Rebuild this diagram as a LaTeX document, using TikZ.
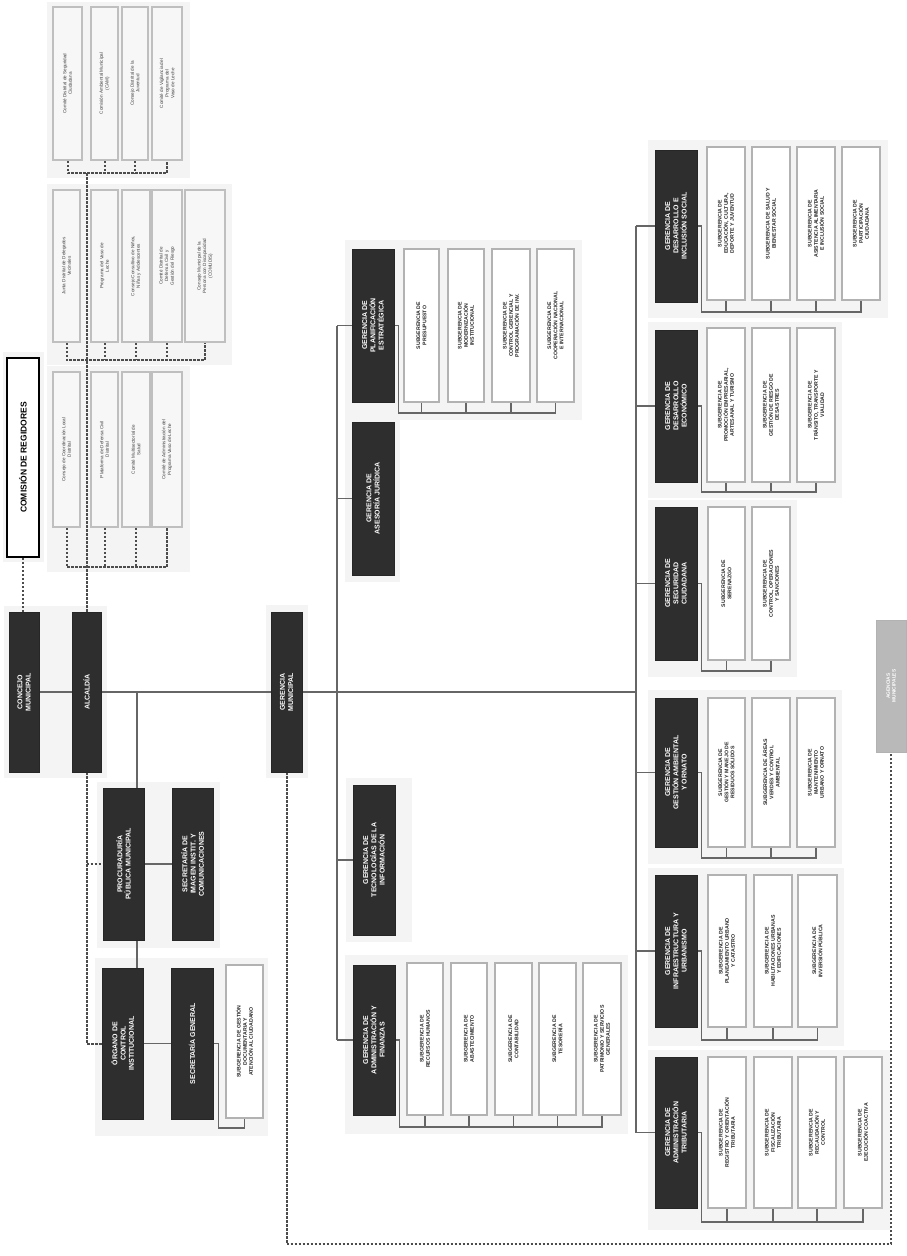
\documentclass[tikz,border=0pt]{standalone}
\usepackage{fontspec}
\setmainfont{Liberation Sans}
\usetikzlibrary{calc}
\pgfdeclarelayer{paper}
\pgfdeclarelayer{halo}
\pgfdeclarelayer{bg}
\pgfsetlayers{paper,halo,bg,main}
\newcommand{\bx}[7]{\node[#1, minimum width={(#6)-(#4)}, minimum height={(#5)-(#3)}] (#2) at ({((#3)+(#5))/2},{((#4)+(#6))/2}) {#7};}
\newcommand{\brk}[4]{%
  \draw[ln] (#1.south) -- ++(4,0) |- (#3.west |- 0,#2) -- (#3.west);
  \foreach \s in {#4} {\draw[ln] (\s.west) -- (\s.west |- 0,#2);}}
\newcommand{\hl}[4]{\fill[gray!9] (#1,#2) rectangle (#3,#4);}
\begin{document}
\begin{tikzpicture}[x=1pt,y=-1pt,
  dbox/.style={draw=black!85, fill=black!82, text=white, align=center, inner sep=1pt, rotate=90,
    font=\bfseries\fontsize{7}{8.2}\selectfont},
  sbox/.style={draw=gray!60, line width=1.5pt, fill=white, text=black!85, align=center, inner sep=1pt, rotate=90,
    font=\bfseries\fontsize{5.2}{6.2}\selectfont},
  cbox/.style={draw=gray!50, line width=1.6pt, fill=gray!6, text=black!75, align=center, inner sep=1pt, rotate=90,
    font=\fontsize{4.6}{5.6}\selectfont},
  tbox/.style={draw=black, line width=1.8pt, fill=white, text=black, align=center, inner sep=1pt, rotate=90,
    font=\bfseries\fontsize{8.5}{10}\selectfont},
  gbox/.style={draw=gray!60, fill=gray!55, text=white, align=center, inner sep=1pt, rotate=90,
    font=\bfseries\fontsize{4.8}{5.8}\selectfont},
  ln/.style={draw=black!60, line width=1.2pt},
  dsh/.style={draw=black!70, line width=2pt, dash pattern=on 2.4pt off 1.6pt}]
\useasboundingbox (0,0) rectangle (907,1256);
\begin{pgfonlayer}{paper}
\fill[white] (0,0) rectangle (907,1256);
\end{pgfonlayer}

% ---------- consultative bodies ----------
\bx{cbox}{a1}{53}{7}{82}{160}{Comité Distrital de Seguridad\\Ciudadana}
\bx{cbox}{a2}{91}{7}{118}{160}{Comisión Ambiental Municipal\\(CAM)}
\bx{cbox}{a3}{122}{7}{148}{160}{Consejo Distrital de la\\Juventud}
\bx{cbox}{a4}{152}{7}{182}{160}{Comité de Vigilancia del\\Programa del\\Vaso de Leche}
\bx{cbox}{b1}{53}{190}{80}{342}{Junta Distrital de Delegados\\Vecinales}
\bx{cbox}{b2}{91}{190}{118}{342}{Programa del Vaso de\\Leche}
\bx{cbox}{b3}{122}{190}{150}{342}{Consejo Consultivo de Niños,\\Niñas y Adolescentes}
\bx{cbox}{b4}{152}{190}{182}{342}{Comité Distrital de\\Defensa Civil y\\Gestión del Riesgo}
\bx{cbox}{b5}{185}{190}{225}{342}{Consejo Municipal de la\\Persona con Discapacidad\\(COMUDIS)}
\bx{cbox}{c1}{53}{372}{80}{527}{Consejo de Coordinación Local\\Distrital}
\bx{cbox}{c2}{91}{372}{118}{527}{Plataforma de Defensa Civil\\Distrital}
\bx{cbox}{c3}{122}{372}{150}{527}{Comité Multisectorial de\\Salud}
\bx{cbox}{c4}{152}{372}{182}{527}{Comité de Administración del\\Programa Vaso de Leche}

\bx{tbox}{com}{7}{358}{39}{557}{COMISIÓN DE REGIDORES}

% ---------- top level ----------
\bx{dbox}{con}{9}{612}{39}{772}{CONCEJO\\MUNICIPAL}
\bx{dbox}{alc}{72}{612}{101}{772}{ALCALDÍA}
\bx{dbox}{gm}{271}{612}{302}{772}{GERENCIA\\MUNICIPAL}
\bx{dbox}{proc}{103}{788}{144}{940}{PROCURADURÍA\\PÚBLICA MUNICIPAL}
\bx{dbox}{sii}{172}{788}{213}{940}{SECRETARÍA DE\\IMAGEN INSTIT. Y\\COMUNICACIONES}
\bx{dbox}{oci}{102}{968}{143}{1119}{ÓRGANO DE\\CONTROL\\INSTITUCIONAL}
\bx{dbox}{sg}{171}{968}{213}{1119}{SECRETARÍA GENERAL}
\bx{sbox}{sgd}{226}{965}{263}{1118}{SUBGERENCIA DE GESTIÓN\\DOCUMENTARIA Y\\ATENCIÓN AL CIUDADANO}

% ---------- staff ----------
\bx{dbox}{gpe}{352}{249}{394}{402}{GERENCIA DE\\PLANIFICACIÓN\\ESTRATÉGICA}
\bx{sbox}{pe1}{404}{249}{439}{402}{SUBGERENCIA DE\\PRESUPUESTO}
\bx{sbox}{pe2}{448}{249}{484}{402}{SUBGERENCIA DE\\MODERNIZACIÓN\\INSTITUCIONAL}
\bx{sbox}{pe3}{492}{249}{530}{402}{SUBGERENCIA DE\\CONTROL GERENCIAL Y\\PROGRAMACIÓN DE INV.}
\bx{sbox}{pe4}{537}{249}{574}{402}{SUBGERENCIA DE\\COOPERACIÓN NACIONAL\\E INTERNACIONAL}
\bx{dbox}{gaj}{352}{422}{394}{575}{GERENCIA DE\\ASESORÍA JURÍDICA}
\bx{dbox}{gti}{353}{785}{395}{935}{GERENCIA DE\\TECNOLOGÍAS DE LA\\INFORMACIÓN}
\bx{dbox}{gaf}{353}{965}{395}{1115}{GERENCIA DE\\ADMINISTRACIÓN Y\\FINANZAS}
\bx{sbox}{af1}{407}{963}{443}{1115}{SUBGERENCIA DE\\RECURSOS HUMANOS}
\bx{sbox}{af2}{451}{963}{487}{1115}{SUBGERENCIA DE\\ABASTECIMIENTO}
\bx{sbox}{af3}{495}{963}{532}{1115}{SUBGERENCIA DE\\CONTABILIDAD}
\bx{sbox}{af4}{539}{963}{576}{1115}{SUBGERENCIA DE\\TESORERÍA}
\bx{sbox}{af5}{583}{963}{621}{1115}{SUBGERENCIA DE\\PATRIMONIO Y SERVICIOS\\GENERALES}

% ---------- line management ----------
\bx{dbox}{gdis}{655}{150}{697}{302}{GERENCIA DE\\DESARROLLO E\\INCLUSIÓN SOCIAL}
\bx{sbox}{dis1}{707}{147}{745}{300}{SUBGERENCIA DE\\EDUCACIÓN, CULTURA,\\DEPORTE Y JUVENTUD}
\bx{sbox}{dis2}{752}{147}{790}{300}{SUBGERENCIA DE SALUD Y\\BIENESTAR SOCIAL}
\bx{sbox}{dis3}{797}{147}{835}{300}{SUBGERENCIA DE\\ASISTENCIA ALIMENTARIA\\E INCLUSIÓN SOCIAL}
\bx{sbox}{dis4}{842}{147}{880}{300}{SUBGERENCIA DE\\PARTICIPACIÓN\\CIUDADANA}

\bx{dbox}{gde}{655}{330}{697}{482}{GERENCIA DE\\DESARROLLO\\ECONÓMICO}
\bx{sbox}{de1}{707}{328}{745}{482}{SUBGERENCIA DE\\PROMOCIÓN EMPRESARIAL,\\ARTESANAL Y TURISMO}
\bx{sbox}{de2}{752}{328}{790}{482}{SUBGERENCIA DE\\GESTIÓN DE RIESGO DE\\DESASTRES}
\bx{sbox}{de3}{797}{328}{835}{482}{SUBGERENCIA DE\\TRÁNSITO, TRANSPORTE Y\\VIALIDAD}

\bx{dbox}{gsc}{655}{507}{697}{660}{GERENCIA DE\\SEGURIDAD\\CIUDADANA}
\bx{sbox}{sc1}{708}{507}{745}{660}{SUBGERENCIA DE\\SERENAZGO}
\bx{sbox}{sc2}{752}{507}{790}{660}{SUBGERENCIA DE\\CONTROL, OPERACIONES\\Y SANCIONES}

\bx{dbox}{gga}{655}{698}{697}{847}{GERENCIA DE\\GESTIÓN AMBIENTAL\\Y ORNATO}
\bx{sbox}{ga1}{708}{698}{745}{847}{SUBGERENCIA DE\\GESTIÓN Y MANEJO DE\\RESIDUOS SÓLIDOS}
\bx{sbox}{ga2}{752}{698}{790}{847}{SUBGERENCIA DE ÁREAS\\VERDES Y CONTROL\\AMBIENTAL}
\bx{sbox}{ga3}{797}{698}{835}{847}{SUBGERENCIA DE\\MANTENIMIENTO\\URBANO Y ORNATO}

\bx{dbox}{gdu}{655}{875}{697}{1027}{GERENCIA DE\\INFRAESTRUCTURA Y\\URBANISMO}
\bx{sbox}{du1}{708}{875}{746}{1027}{SUBGERENCIA DE\\PLANEAMIENTO URBANO\\Y CATASTRO}
\bx{sbox}{du2}{754}{875}{792}{1027}{SUBGERENCIA DE\\HABILITACIONES URBANAS\\Y EDIFICACIONES}
\bx{sbox}{du3}{798}{875}{837}{1027}{SUBGERENCIA DE\\INVERSIÓN PÚBLICA}

\bx{dbox}{gat}{655}{1057}{697}{1208}{GERENCIA DE\\ADMINISTRACIÓN\\TRIBUTARIA}
\bx{sbox}{at1}{708}{1057}{746}{1208}{SUBGERENCIA DE\\REGISTRO Y ORIENTACIÓN\\TRIBUTARIA}
\bx{sbox}{at2}{754}{1057}{792}{1208}{SUBGERENCIA DE\\FISCALIZACIÓN\\TRIBUTARIA}
\bx{sbox}{at3}{798}{1057}{836}{1208}{SUBGERENCIA DE\\RECAUDACIÓN Y\\CONTROL}
\bx{sbox}{at4}{844}{1057}{882}{1208}{SUBGERENCIA DE\\EJECUCIÓN COACTIVA}

\bx{gbox}{ag}{876}{620}{906}{752}{AGENCIAS\\MUNICIPALES}

% ---------- halos ----------
\begin{pgfonlayer}{halo}
\hl{47}{2}{190}{178}
\hl{47}{184}{232}{365}
\hl{47}{366}{190}{572}
\hl{3}{352}{44}{562}
\hl{4}{606}{107}{778}
\hl{266}{605}{308}{778}
\hl{97}{782}{220}{948}
\hl{95}{958}{268}{1136}
\hl{345}{240}{582}{420}
\hl{345}{415}{400}{582}
\hl{346}{778}{412}{942}
\hl{345}{955}{628}{1134}
\hl{648}{140}{888}{318}
\hl{648}{322}{842}{498}
\hl{648}{500}{797}{677}
\hl{648}{690}{842}{864}
\hl{648}{868}{844}{1046}
\hl{648}{1050}{890}{1230}
\end{pgfonlayer}

% ---------- connectors ----------
\begin{pgfonlayer}{bg}
% consultative
\draw[dsh] (a1.west) -- (a1.west |- 0,173) -- (a4.west |- 0,173) -- (a4.west);
\foreach \s in {a2,a3} {\draw[dsh] (\s.west) -- (\s.west |- 0,173);}
\draw[dsh] (b1.west) -- (b1.west |- 0,360) -- (b5.west |- 0,360) -- (b5.west);
\foreach \s in {b2,b3,b4} {\draw[dsh] (\s.west) -- (\s.west |- 0,360);}
\draw[dsh] (c1.west) -- (c1.west |- 0,567) -- (c4.west |- 0,567) -- (c4.west);
\foreach \s in {c2,c3} {\draw[dsh] (\s.west) -- (\s.west |- 0,567);}
\draw[dsh] (alc.east) -- (alc.east |- 0,173);
\draw[dsh] (com.west) -- (com.west |- con.east);
% top level
\draw[ln] (con.south) -- (alc.north);
\coordinate (mj) at (636,692);
\draw[ln] (alc.south) -- (gm.north);
\draw[ln] (gm.south) -- (mj);
\coordinate (k1) at (137,692);
\draw[ln] (k1) -- (k1 |- oci.east);
\draw[ln] (proc.south) -- (sii.north);
\draw[dsh] (alc.west) -- (alc.west |- oci.north) -- (oci.north);
\draw[dsh] (proc.north -| alc.west) -- (proc.north);
\draw[ln] (oci.south) -- (sg.north);
\draw[ln] (sg.south) -- ++(5,0) |- (sgd.west |- 0,1128) -- (sgd.west);
\draw[dsh] (gm.west) -- (gm.west |- 0,1244) -| (ag.west);
% staff
\coordinate (st1) at (gpe.north -| 337,0);
\coordinate (st2) at (gaf.north -| 337,0);
\draw[ln] (st1) -- (st2);
\foreach \g in {gpe,gaj,gti,gaf} {\draw[ln] (\g.north -| st1) -- (\g.north);}
\brk{gpe}{413}{pe4}{pe1,pe2,pe3}
\brk{gaf}{1127}{af5}{af1,af2,af3,af4}
% line
\draw[ln] (gdis.north -| mj) -- (gat.north -| mj);
\foreach \g in {gdis,gde,gsc,gga,gdu,gat} {\draw[ln] (\g.north -| mj) -- (\g.north);}
\brk{gdis}{312}{dis4}{dis1,dis2,dis3}
\brk{gde}{492}{de3}{de1,de2}
\brk{gsc}{671}{sc2}{sc1}
\brk{gga}{858}{ga3}{ga1,ga2}
\brk{gdu}{1040}{du3}{du1,du2}
\brk{gat}{1222}{at4}{at1,at2,at3}
\end{pgfonlayer}
\end{tikzpicture}
\end{document}
